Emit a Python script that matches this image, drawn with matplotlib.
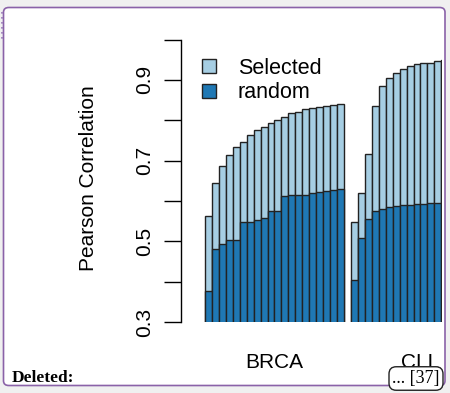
import matplotlib.pyplot as plt
from matplotlib.patches import Patch, FancyBboxPatch
import numpy as np

# values
brca_selected = [0.562, 0.644, 0.686, 0.714, 0.734, 0.747, 0.764, 0.775, 0.783, 0.792,
                 0.800, 0.809, 0.817, 0.821, 0.827, 0.831, 0.833, 0.836, 0.838, 0.840]
brca_random = [0.376, 0.480, 0.493, 0.503, 0.503, 0.547, 0.549, 0.553, 0.557, 0.575,
               0.575, 0.613, 0.614, 0.614, 0.614, 0.620, 0.623, 0.624, 0.628, 0.629]
cll_selected = [0.548, 0.620, 0.717, 0.836, 0.886, 0.904, 0.917, 0.927, 0.934, 0.939,
                0.941, 0.943, 0.947, 0.950]
cll_random = [0.404, 0.507, 0.556, 0.576, 0.581, 0.586, 0.588, 0.589, 0.589, 0.592,
              0.592, 0.595, 0.596, 0.596]
groups = ["BRCA", "CLL"]
series = ["Selected", "random"]
yticks = [0.3, 0.4, 0.5, 0.6, 0.7, 0.8, 0.9, 1.0]
ytick_labels = ["0.3", "", "0.5", "", "0.7", "", "0.9", ""]

light = "#a6cee3"
dark = "#1f78b4"
edge = "#222222"

plt.rcParams['font.family'] = ['Liberation Sans', 'DejaVu Sans']

W, H = 450, 393
fig = plt.figure(figsize=(W / 100, H / 100), dpi=100)
fig.patch.set_facecolor("#f0f0f0")

# document frame around the figure
frame = FancyBboxPatch((3.5 / W, (H - 385.5) / H), 441.5 / W, 378 / H,
                       boxstyle="round,pad=0,rounding_size=0.012",
                       transform=fig.transFigure, facecolor="white",
                       edgecolor="#8a62a8", linewidth=1.2, zorder=-10)
fig.patches.append(frame)
fig.add_artist(plt.Line2D([1.5 / W, 1.5 / W], [(H - 12) / H, (H - 40) / H],
                          transform=fig.transFigure, color="#9a7ab8",
                          linestyle=(0, (1, 2)), linewidth=1.2))

ax = fig.add_axes([181 / W, (H - 322) / H, 261 / W, 282.5 / H])
ax.set_zorder(1)
ax.patch.set_alpha(0)

gap = 1
x_brca = np.arange(len(brca_selected))
cll_start = len(brca_selected) + gap
x_cll = cll_start + np.arange(len(cll_selected))

for xs, sel, rnd in [(x_brca, brca_selected, brca_random), (x_cll, cll_selected, cll_random)]:
    ax.bar(xs, sel, width=1, align='edge', color=light, edgecolor=edge, linewidth=1.0)
    ax.bar(xs, rnd, width=1, align='edge', color=dark, edgecolor=edge, linewidth=1.0)

ax.set_xlim(-3.45, 34.1)
ax.set_ylim(0.3, 1.0)

for s in ["top", "right", "bottom"]:
    ax.spines[s].set_visible(False)
ax.spines["left"].set_bounds(0.3, 1.0)
ax.spines["left"].set_linewidth(1.0)
ax.set_xticks([])
ax.set_yticks(yticks)
ax.set_yticklabels(ytick_labels, rotation=90, va="center", fontsize=15)
ax.tick_params(axis="y", length=12, width=1.0, pad=7)
ax.set_ylabel("Pearson Correlation", fontsize=15)
ax.yaxis.set_label_coords(-0.317, 0.51)

# group names under the bars
centers = [len(brca_selected) / 2, cll_start + len(brca_selected) / 2]
for c, name in zip(centers, groups):
    ax.text(c, -0.145, name, transform=ax.get_xaxis_transform(), ha="center",
            va="center", fontsize=15, clip_on=False)

handles = [Patch(facecolor=light, edgecolor=edge, linewidth=1.0),
           Patch(facecolor=dark, edgecolor=edge, linewidth=1.0)]
ax.legend(handles, series, loc="upper left", bbox_to_anchor=(0.08, 0.936),
          frameon=False, fontsize=15.5, handlelength=0.66, handleheight=0.64,
          handletextpad=1.0, labelspacing=0.18, borderaxespad=0, borderpad=0)

fig.text(12 / W, (H - 378) / H, "Deleted:", family="Liberation Serif",
         weight="bold", fontsize=12.5, va="center", ha="left", zorder=3)
fig.text(416 / W, (H - 378.5) / H, "... [37]", family="Liberation Serif",
         fontsize=13, va="center", ha="center", zorder=3,
         bbox=dict(boxstyle="round,pad=0.18,rounding_size=0.4", facecolor="white",
                   edgecolor="#222222", linewidth=1.0))

fig.savefig("out.png", dpi=100, facecolor=fig.get_facecolor())
